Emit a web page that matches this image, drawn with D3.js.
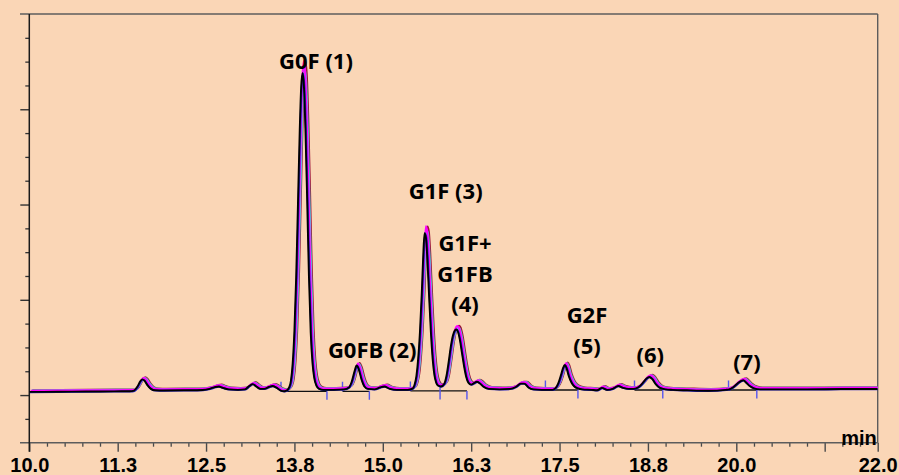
<!DOCTYPE html>
<html>
<head>
<meta charset="utf-8">
<script src="https://d3js.org/d3.v7.min.js"></script>
<style>
  body { margin: 0; background: #fad6b6; }
  svg { display: block; }
  .lbl { font-family: "Open Sans", "Noto Sans", sans-serif; font-weight: bold; font-size: 22px; fill: #000; }
  .tick text { font-family: "Liberation Sans", Arial, sans-serif; font-weight: bold; font-size: 20px; fill: #000; }
</style>
</head>
<body>
<svg id="chart" width="899" height="475"></svg>
<script>
// retention time (min) and signal (mAU), first injection
const baseTime = [10.00, 10.40, 10.80, 11.20, 11.42, 11.48, 11.53, 11.57, 11.60, 11.63, 11.67, 11.72, 11.78, 11.90,
  12.20, 12.45, 12.55, 12.63, 12.68, 12.74, 12.82, 12.95, 13.05, 13.11, 13.16, 13.21, 13.27, 13.32, 13.39, 13.44,
  13.49, 13.55, 13.61, 13.645, 13.675, 13.70, 13.725, 13.75, 13.775, 13.80, 13.825, 13.845, 13.865, 13.885, 13.905,
  13.93, 13.955, 13.98, 14.005, 14.03, 14.06, 14.10, 14.16, 14.30, 14.45, 14.52, 14.56, 14.60, 14.63, 14.66, 14.70,
  14.74, 14.79, 14.88, 14.96, 15.02, 15.10, 15.20, 15.35, 15.425, 15.45, 15.475, 15.50, 15.525, 15.55, 15.57, 15.59,
  15.61, 15.63, 15.655, 15.68, 15.705, 15.73, 15.755, 15.78, 15.82, 15.87, 15.90, 15.93, 15.96, 15.99, 16.02, 16.04,
  16.06, 16.09, 16.12, 16.15, 16.18, 16.21, 16.25, 16.29, 16.33, 16.37, 16.42, 16.50, 16.65, 16.80, 16.88, 16.95,
  17.00, 17.06, 17.13, 17.25, 17.40, 17.44, 17.48, 17.52, 17.55, 17.575, 17.60, 17.63, 17.67, 17.71, 17.76, 17.82,
  17.95, 18.03, 18.10, 18.17, 18.25, 18.33, 18.40, 18.48, 18.55, 18.62, 18.68, 18.73, 18.77, 18.81, 18.86, 18.92,
  19.00, 19.10, 19.30, 19.60, 19.85, 19.90, 19.96, 20.02, 20.07, 20.10, 20.14, 20.19, 20.25, 20.33, 20.60, 21.00,
  21.50, 22.00];
const baseSignal = [3.3, 3.5, 3.7, 3.9, 4.0, 4.6, 9, 14.5, 16.5, 15, 10.5, 6.5, 5, 4.8,
  5.0, 5.3, 6.5, 8.5, 9, 7.5, 6, 5.5, 6, 9.5, 11.5, 9, 6.5, 6.5, 8.5, 9.5,
  8, 5, 4, 5, 8, 15, 33, 68, 125, 201, 278, 323, 338, 323, 280,
  205, 125, 66, 34, 18, 10, 6.5, 5.5, 5.5, 6, 8, 14, 25, 31, 27, 16,
  9, 6.5, 6, 8, 9, 6.5, 5.5, 5.5, 7, 11, 20, 38, 66, 105, 143, 170,
  165, 143, 103, 66, 38, 21, 13, 10, 9, 12, 20, 34, 50, 62, 68, 69,
  67, 58, 44, 30, 19, 13, 11, 12.5, 14, 12.5, 9, 6.5, 6, 6.5, 8.5, 12,
  12, 8, 6, 5.5, 5.5, 7, 12, 21, 28.5, 31.5, 28, 20, 13, 9, 7, 6,
  5.5, 5, 7.5, 5.5, 6.5, 9.5, 7.5, 6.5, 6.5, 8.5, 13, 17.5, 19, 17, 11.5, 7.5,
  6, 5.5, 5, 4.5, 5.5, 6, 8.5, 12.5, 15, 15.5, 13, 9.5, 7, 6, 6, 6,
  6.3, 6.3];

// overlaid injections: retention shift (min), response factor, offset (mAU)
const injections = ["Inj 6", "Inj 5", "Inj 4", "Inj 3", "Inj 2", "Inj 1"];
const injShift = [0.042, 0.032, 0.025, 0.019, 0.008, 0];
const injFactor = [1.03, 1.01, 1.0, 1.035, 1.0, 1.0];
const injOffset = [1.8, 1.6, 1.0, 1.2, -0.3, 0];
const injColors = ["#9c1238", "#3fd6de", "#9a86f0", "#ff00ff", "#2424c8", "#000000"];

// integration events
const peakStart = [13.56, 14.43, 15.39, 15.81, 17.30, 18.56, 19.89];
const peakEnd = [14.21, 14.81, 15.81, 16.19, 17.76, 18.96, 20.29];
const peakBase = [3.9, 3.9, 4.3, 4.3, 5.3, 5.3, 5.3];

// peak annotations: text lines, label centre time, first-line baseline value (mAU)
const peakNames = [["G0F (1)"], ["G0FB (2)"], ["G1F (3)"], ["G1F+", "G1FB", "(4)"], ["G2F", "(5)"], ["(6)"], ["(7)"]];
const nameTime = [14.055, 14.85, 15.89, 16.163, 17.888, 18.784, 20.15];
const nameValue = [342, 39, 205.5, 151, 75.3, 34, 26.3];

const xMajor = [10, 11.25, 12.5, 13.75, 15, 16.25, 17.5, 18.75, 20, 21.25, 22];
const xMajorLabels = ["10.0", "11.3", "12.5", "13.8", "15.0", "16.3", "17.5", "18.8", "20.0", "", "22.0"];
const yMajor = [0, 100, 200, 300];

const svg = d3.select("#chart");
const W = 899, H = 475;
const x = d3.scaleLinear().domain([10, 22]).range([29.3, 877.7]);
const y = d3.scaleLinear().domain([-50, 400]).range([442.7, 14]);

svg.append("rect").attr("width", W).attr("height", H).attr("fill", "#fad6b6");

svg.append("clipPath").attr("id", "plot")
  .append("rect").attr("x", x(10)).attr("y", y(400)).attr("width", x(22) - x(10)).attr("height", y(-50) - y(400));

// frame
svg.append("line").attr("x1", 20).attr("x2", x(22)).attr("y1", y(400)).attr("y2", y(400))
  .attr("stroke", "#5c5c5c").attr("stroke-width", 1.6);
svg.append("line").attr("x1", x(22)).attr("x2", x(22)).attr("y1", y(400)).attr("y2", y(-50))
  .attr("stroke", "#5c5c5c").attr("stroke-width", 1.4);

// x axis
const minorX = d3.range(10, 22.001, 0.25).filter(v => !xMajor.some(m => Math.abs(m - v) < 1e-6));
svg.append("g").attr("transform", `translate(0,${y(-50)})`)
  .call(d3.axisBottom(x).tickValues(minorX).tickSize(4).tickFormat(""))
  .call(g => g.select(".domain").remove())
  .call(g => g.selectAll("line").attr("stroke", "#4a4a4a").attr("stroke-width", 1.3));
svg.append("g").attr("transform", `translate(0,${y(-50)})`)
  .call(d3.axisBottom(x).tickValues(xMajor).tickSize(9).tickPadding(6.5)
    .tickFormat((d, i) => xMajorLabels[i]))
  .call(g => g.select(".domain").remove())
  .call(g => g.selectAll("line").attr("stroke", "#4a4a4a").attr("stroke-width", 1.4));
svg.append("line").attr("x1", 20).attr("x2", x(22)).attr("y1", y(-50)).attr("y2", y(-50))
  .attr("stroke", "#5c5c5c").attr("stroke-width", 1.6);

// y axis, no labels
const minorY = d3.range(-25, 400, 25).filter(v => !yMajor.includes(v));
svg.append("g").attr("transform", `translate(${x(10)},0)`)
  .call(d3.axisLeft(y).tickValues(minorY).tickSize(4).tickFormat(""))
  .call(g => g.select(".domain").remove())
  .call(g => g.selectAll("line").attr("stroke", "#333").attr("stroke-width", 1.3));
svg.append("g").attr("transform", `translate(${x(10)},0)`)
  .call(d3.axisLeft(y).tickValues(yMajor).tickSize(9).tickFormat(""))
  .call(g => g.select(".domain").remove())
  .call(g => g.selectAll("line").attr("stroke", "#333").attr("stroke-width", 1.4));
svg.append("line").attr("x1", x(10)).attr("x2", x(10)).attr("y1", y(400)).attr("y2", y(-50) + 9)
  .attr("stroke", "#1a1a1a").attr("stroke-width", 1.5);

svg.append("text")
  .attr("x", x(22) - 1).attr("y", y(-50) + 2.5)
  .attr("text-anchor", "end")
  .style("font-family", "'Liberation Sans', Arial, sans-serif")
  .style("font-weight", "bold").style("font-size", "20px")
  .text("min");

// integration baselines and event marks
const plot = svg.append("g").attr("clip-path", "url(#plot)");
plot.selectAll(".base").data(peakStart).join("line")
  .attr("x1", (d, i) => x(d)).attr("x2", (d, i) => x(peakEnd[i]))
  .attr("y1", (d, i) => y(peakBase[i])).attr("y2", (d, i) => y(peakBase[i]))
  .attr("stroke", "#111").attr("stroke-width", 1.3);
plot.selectAll(".evUp").data(peakStart).join("line")
  .attr("x1", d => x(d)).attr("x2", d => x(d))
  .attr("y1", (d, i) => y(peakBase[i])).attr("y2", (d, i) => y(peakBase[i]) - 9.5)
  .attr("stroke", "#5555ee").attr("stroke-width", 1.4);
plot.selectAll(".evDown").data(peakEnd).join("line")
  .attr("x1", d => x(d)).attr("x2", d => x(d))
  .attr("y1", (d, i) => y(peakBase[i])).attr("y2", (d, i) => y(peakBase[i]) + 8.5)
  .attr("stroke", "#5555ee").attr("stroke-width", 1.4);

// chromatograms
const line = d3.line().x(d => x(d[0])).y(d => y(d[1])).curve(d3.curveMonotoneX);
injections.forEach((name, k) => {
  const pts = baseTime.map((t, i) => [t + injShift[k], baseSignal[i] * injFactor[k] + injOffset[k]]);
  plot.append("path").datum(pts)
    .attr("d", line)
    .attr("fill", "none")
    .attr("stroke", injColors[k])
    .attr("stroke-width", 1.9)
    .attr("stroke-linejoin", "round");
});

// peak labels
const lineGap = 30.5;
peakNames.forEach((lines, i) => {
  const t = svg.append("text").attr("class", "lbl").attr("text-anchor", "middle");
  lines.forEach((s, j) => {
    t.append("tspan").attr("x", x(nameTime[i])).attr("y", y(nameValue[i]) + j * lineGap).text(s);
  });
});
</script>
</body>
</html>
